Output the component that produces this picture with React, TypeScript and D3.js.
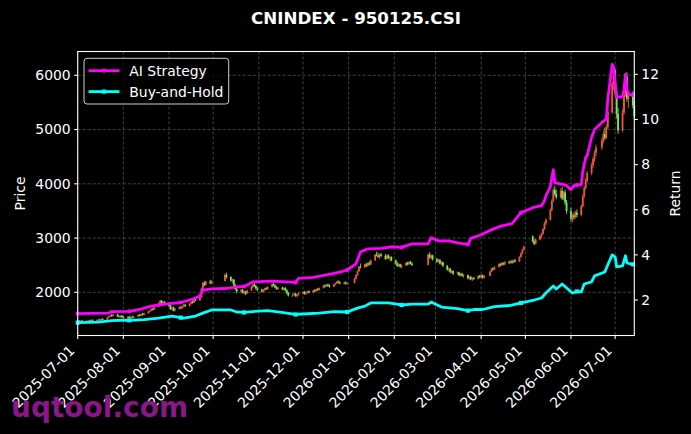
import * as d3 from 'd3';

const WIDTH = 691;
const HEIGHT = 434;
const MARGIN = { top: 51.5, right: 56.7, bottom: 98.5, left: 77.7 };

// trading calendar
const FIRST_DAY = '2025-07-01';
const LAST_DAY = '2026-07-14';
const HOLIDAYS = [
  '2025-10-01', '2025-10-02', '2025-10-03', '2025-10-06', '2025-10-07', '2025-10-08',
  '2026-01-01', '2026-01-02',
  '2026-02-16', '2026-02-17', '2026-02-18', '2026-02-19', '2026-02-20', '2026-02-23',
  '2026-04-06', '2026-05-01', '2026-05-04', '2026-05-05', '2026-06-19',
];

// daily candles per month: [open, high, low, close]
type Candle = [number, number, number, number];

const jul2025: Candle[] = [
  [1465, 1482, 1442, 1470], [1470, 1488, 1452, 1461], [1461, 1484, 1449, 1476], [1476, 1490, 1458, 1468],
  [1468, 1479, 1446, 1455], [1455, 1483, 1447, 1478], [1478, 1494, 1462, 1472], [1472, 1497, 1466, 1489],
  [1489, 1503, 1470, 1481], [1481, 1498, 1463, 1486], [1486, 1510, 1474, 1497], [1497, 1512, 1478, 1490],
  [1490, 1516, 1483, 1508], [1508, 1529, 1494, 1502], [1502, 1541, 1497, 1533], [1533, 1565, 1521, 1556],
  [1556, 1590, 1540, 1571], [1571, 1598, 1553, 1562], [1562, 1601, 1555, 1589], [1589, 1606, 1548, 1557],
  [1557, 1584, 1536, 1548], [1548, 1579, 1530, 1566], [1566, 1583, 1529, 1541],
];
const aug2025: Candle[] = [
  [1541, 1568, 1522, 1536], [1536, 1562, 1515, 1549], [1549, 1571, 1520, 1528], [1528, 1556, 1511, 1545],
  [1545, 1573, 1526, 1532], [1532, 1566, 1518, 1558], [1558, 1590, 1547, 1581], [1581, 1603, 1554, 1569],
  [1569, 1606, 1561, 1597], [1597, 1618, 1570, 1584], [1584, 1627, 1578, 1615], [1615, 1660, 1606, 1648],
  [1648, 1679, 1630, 1662], [1662, 1706, 1651, 1694], [1694, 1716, 1663, 1681], [1681, 1742, 1676, 1733],
  [1733, 1812, 1726, 1801], [1801, 1858, 1782, 1846], [1846, 1861, 1772, 1790], [1790, 1833, 1765, 1818],
  [1818, 1842, 1758, 1773],
];
const sep2025: Candle[] = [
  [1773, 1801, 1735, 1752], [1752, 1768, 1676, 1694], [1694, 1737, 1662, 1718], [1718, 1742, 1648, 1667],
  [1667, 1714, 1645, 1702], [1702, 1738, 1683, 1726], [1726, 1745, 1690, 1708], [1708, 1757, 1696, 1743],
  [1743, 1786, 1724, 1769], [1769, 1784, 1728, 1747], [1747, 1805, 1739, 1792], [1792, 1838, 1775, 1824],
  [1824, 1849, 1793, 1811], [1811, 1876, 1802, 1863], [1863, 1893, 1836, 1852], [1852, 1921, 1845, 1908],
  [1908, 2086, 1901, 2064], [2064, 2197, 2050, 2172], [2172, 2208, 2116, 2138], [2138, 2214, 2122, 2196],
  [2196, 2231, 2148, 2167], [2167, 2226, 2152, 2209],
];
const oct2025: Candle[] = [
  [2209, 2348, 2201, 2319], [2319, 2362, 2254, 2281], [2281, 2298, 2196, 2213], [2213, 2250, 2165, 2236],
  [2236, 2244, 2118, 2134], [2134, 2152, 2041, 2058], [2058, 2087, 1984, 2016], [2016, 2059, 1981, 2043],
  [2043, 2066, 1978, 1994], [1994, 2031, 1960, 2012], [2012, 2025, 1952, 1978], [1978, 2047, 1969, 2035],
  [2035, 2119, 2026, 2104], [2104, 2163, 2081, 2142], [2142, 2170, 2097, 2118], [2118, 2139, 2052, 2071],
  [2071, 2096, 2018, 2046],
];
const nov2025: Candle[] = [
  [2046, 2068, 1997, 2013], [2013, 2061, 1994, 2049], [2049, 2086, 2021, 2074], [2074, 2097, 2039, 2058],
  [2058, 2112, 2047, 2097], [2097, 2164, 2088, 2151], [2151, 2173, 2111, 2126], [2126, 2148, 2079, 2092],
  [2092, 2118, 2046, 2063], [2063, 2101, 2041, 2085], [2085, 2107, 2038, 2054], [2054, 2093, 2033, 2079],
  [2079, 2096, 2021, 2037], [2037, 2058, 1968, 1986], [1986, 2004, 1921, 1942], [1942, 1979, 1914, 1963],
  [1963, 1992, 1938, 1975], [1975, 1988, 1917, 1931], [1931, 1972, 1906, 1958], [1958, 1997, 1942, 1981],
];
const dec2025: Candle[] = [
  [1981, 2019, 1966, 2006], [2006, 2024, 1958, 1973], [1973, 2011, 1951, 1998], [1998, 2032, 1979, 2017],
  [2017, 2036, 1981, 1995], [1995, 2047, 1987, 2034], [2034, 2058, 2003, 2021], [2021, 2069, 2012, 2056],
  [2056, 2078, 2024, 2041], [2041, 2093, 2033, 2079], [2079, 2138, 2070, 2124], [2124, 2149, 2092, 2108],
  [2108, 2153, 2097, 2141], [2141, 2160, 2103, 2119], [2119, 2144, 2086, 2103], [2103, 2158, 2095, 2147],
  [2147, 2179, 2128, 2166], [2166, 2212, 2154, 2198], [2198, 2219, 2163, 2181], [2181, 2204, 2147, 2162],
  [2162, 2195, 2140, 2183], [2183, 2201, 2144, 2159], [2159, 2188, 2138, 2172],
];
const jan2026: Candle[] = [
  [2172, 2262, 2165, 2248], [2248, 2331, 2236, 2317], [2317, 2402, 2305, 2389], [2389, 2486, 2374, 2471],
  [2471, 2532, 2440, 2463], [2463, 2529, 2451, 2514], [2514, 2541, 2468, 2487], [2487, 2553, 2476, 2538],
  [2538, 2571, 2496, 2512], [2512, 2604, 2503, 2589], [2589, 2706, 2580, 2692], [2692, 2749, 2661, 2678],
  [2678, 2731, 2638, 2654], [2654, 2712, 2609, 2697], [2697, 2728, 2648, 2671], [2671, 2707, 2597, 2618],
  [2618, 2694, 2606, 2679], [2679, 2701, 2614, 2632], [2632, 2668, 2578, 2650], [2650, 2663, 2571, 2589],
];
const feb2026: Candle[] = [
  [2589, 2604, 2510, 2532], [2532, 2561, 2469, 2487], [2487, 2538, 2466, 2519], [2519, 2530, 2452, 2474],
  [2474, 2512, 2441, 2496], [2496, 2557, 2483, 2541], [2541, 2566, 2497, 2518], [2518, 2573, 2502, 2559],
  [2559, 2581, 2514, 2530], [2530, 2552, 2486, 2507], [2507, 2718, 2496, 2694], [2694, 2737, 2621, 2643],
  [2643, 2702, 2607, 2681], [2681, 2693, 2588, 2609],
];
const mar2026: Candle[] = [
  [2609, 2633, 2541, 2566], [2566, 2619, 2548, 2597], [2597, 2608, 2512, 2531], [2531, 2574, 2503, 2556],
  [2556, 2563, 2468, 2489], [2489, 2501, 2398, 2417], [2417, 2452, 2381, 2436], [2436, 2447, 2352, 2371],
  [2371, 2410, 2343, 2392], [2392, 2405, 2321, 2344], [2344, 2386, 2319, 2368], [2368, 2379, 2296, 2312],
  [2312, 2357, 2294, 2341], [2341, 2362, 2287, 2303], [2303, 2334, 2268, 2319], [2319, 2326, 2238, 2257],
  [2257, 2298, 2231, 2284], [2284, 2303, 2222, 2241], [2241, 2276, 2209, 2262], [2262, 2287, 2228, 2249],
  [2249, 2313, 2241, 2298], [2298, 2322, 2262, 2276],
];
const apr2026: Candle[] = [
  [2276, 2331, 2268, 2315], [2315, 2327, 2251, 2270], [2270, 2318, 2257, 2302], [2302, 2393, 2295, 2381],
  [2381, 2451, 2370, 2437], [2437, 2462, 2401, 2419], [2419, 2478, 2410, 2465], [2465, 2531, 2456, 2519],
  [2519, 2543, 2478, 2496], [2496, 2552, 2487, 2538], [2538, 2561, 2499, 2512], [2512, 2574, 2503, 2557],
  [2557, 2584, 2521, 2541], [2541, 2592, 2530, 2576], [2576, 2598, 2527, 2548], [2548, 2603, 2539, 2591],
  [2591, 2617, 2552, 2569], [2569, 2668, 2561, 2652], [2652, 2731, 2640, 2716], [2716, 2802, 2705, 2784],
  [2784, 2862, 2771, 2841],
];
const may2026: Candle[] = [
  [3032, 3048, 2917, 2946], [2946, 2978, 2868, 2893], [2893, 2991, 2881, 2972], [2972, 3063, 2958, 3041],
  [3041, 3097, 2995, 3078], [3078, 3184, 3061, 3166], [3166, 3298, 3149, 3271], [3271, 3362, 3242, 3338],
  [3338, 3547, 3321, 3519], [3519, 3718, 3497, 3684], [3684, 3921, 3668, 3887], [3887, 3962, 3781, 3814],
  [3814, 3896, 3716, 3752], [3752, 3918, 3731, 3869], [3869, 3947, 3698, 3731], [3731, 3868, 3702, 3841],
  [3841, 3893, 3612, 3655], [3655, 3702, 3447, 3498],
];
const jun2026: Candle[] = [
  [3498, 3561, 3302, 3354], [3354, 3442, 3291, 3418], [3418, 3473, 3336, 3389], [3389, 3502, 3358, 3471],
  [3471, 3528, 3380, 3426], [3426, 3618, 3401, 3587], [3587, 3802, 3566, 3768], [3768, 3962, 3741, 3921],
  [3921, 4108, 3893, 4062], [4062, 4241, 4020, 4197], [4197, 4389, 4158, 4342], [4342, 4501, 4290, 4458],
  [4458, 4617, 4402, 4573], [4573, 4721, 4514, 4669], [4669, 4851, 4623, 4802], [4802, 4973, 4746, 4917],
  [4917, 5038, 4802, 4851], [4851, 5092, 4823, 5043], [5043, 5367, 5012, 5318], [5318, 5896, 5287, 5842],
  [5842, 6201, 5733, 6097],
];
const jul2026: Candle[] = [
  [6097, 6112, 5621, 5683], [5683, 5742, 5204, 5287], [5287, 5398, 4921, 4986], [4986, 5371, 4948, 5312],
  [5312, 5694, 5271, 5638], [5638, 6043, 5597, 5971], [5971, 6058, 5512, 5566], [5566, 5702, 5398, 5641],
  [5641, 5706, 5392, 5452], [5452, 5519, 5187, 5243],
];

// AI Strategy cumulative return
const aiDates = [
  '2025-07-01', '2025-07-22', '2025-07-24', '2025-08-05', '2025-08-12', '2025-08-20', '2025-08-29',
  '2025-09-09', '2025-09-15', '2025-09-19', '2025-09-22', '2025-09-24', '2025-09-30', '2025-10-09',
  '2025-10-17', '2025-10-22', '2025-10-28', '2025-11-10', '2025-11-26', '2025-11-28', '2025-12-08',
  '2025-12-17', '2025-12-26', '2025-12-31', '2026-01-06', '2026-01-09', '2026-01-14', '2026-01-23',
  '2026-01-30', '2026-02-06', '2026-02-13', '2026-02-24', '2026-02-26', '2026-03-03', '2026-03-10',
  '2026-03-16', '2026-03-23', '2026-03-25', '2026-04-01', '2026-04-08', '2026-04-15', '2026-04-22',
  '2026-04-28', '2026-05-06', '2026-05-12', '2026-05-14', '2026-05-15', '2026-05-18', '2026-05-20',
  '2026-05-21', '2026-05-27', '2026-05-29', '2026-06-01', '2026-06-03', '2026-06-05', '2026-06-08',
  '2026-06-09', '2026-06-11', '2026-06-12', '2026-06-15', '2026-06-17', '2026-06-22', '2026-06-25',
  '2026-06-26', '2026-06-29', '2026-06-30', '2026-07-02', '2026-07-06', '2026-07-07', '2026-07-08',
  '2026-07-09', '2026-07-10', '2026-07-13', '2026-07-14',
];
const aiValues = [
  1.40, 1.42, 1.49, 1.50, 1.58, 1.73, 1.82,
  1.89, 2.00, 2.09, 2.18, 2.44, 2.49, 2.51,
  2.58, 2.60, 2.80, 2.84, 2.78, 2.96, 3.00,
  3.11, 3.24, 3.33, 3.60, 4.13, 4.27, 4.29,
  4.36, 4.33, 4.49, 4.49, 4.76, 4.62, 4.62,
  4.53, 4.47, 4.73, 4.89, 5.11, 5.29, 5.38,
  5.87, 6.09, 6.18, 6.40, 6.62, 7.02, 7.78,
  7.20, 7.11, 7.07, 6.89, 7.07, 7.09, 7.11,
  7.69, 8.31, 8.40, 9.20, 9.56, 9.87, 10.02,
  10.89, 12.44, 12.31, 10.98, 11.02, 11.33, 12.00,
  11.33, 11.11, 11.09, 11.07,
];

// Buy-and-Hold cumulative return
const bhDates = [
  '2025-07-01', '2025-07-15', '2025-07-24', '2025-08-01', '2025-08-05', '2025-08-15', '2025-08-25',
  '2025-09-03', '2025-09-09', '2025-09-11', '2025-09-19', '2025-09-24', '2025-09-30', '2025-10-13',
  '2025-10-17', '2025-10-22', '2025-10-28', '2025-11-07', '2025-11-14', '2025-11-26', '2025-12-01',
  '2025-12-12', '2025-12-22', '2025-12-31', '2026-01-07', '2026-01-12', '2026-01-16', '2026-01-28',
  '2026-02-06', '2026-02-13', '2026-02-24', '2026-02-26', '2026-03-05', '2026-03-16', '2026-03-23',
  '2026-03-27', '2026-04-02', '2026-04-10', '2026-04-21', '2026-04-28', '2026-05-07', '2026-05-12',
  '2026-05-15', '2026-05-20', '2026-05-22', '2026-05-26', '2026-06-02', '2026-06-05', '2026-06-08',
  '2026-06-10', '2026-06-15', '2026-06-17', '2026-06-24', '2026-06-26', '2026-06-29', '2026-07-01',
  '2026-07-02', '2026-07-06', '2026-07-08', '2026-07-09', '2026-07-13', '2026-07-14',
];
const bhValues = [
  1.00, 1.02, 1.09, 1.11, 1.10, 1.13, 1.20,
  1.29, 1.22, 1.20, 1.29, 1.42, 1.56, 1.56,
  1.47, 1.45, 1.49, 1.53, 1.47, 1.36, 1.38,
  1.42, 1.49, 1.47, 1.64, 1.73, 1.87, 1.87,
  1.78, 1.82, 1.82, 1.91, 1.69, 1.62, 1.53,
  1.58, 1.58, 1.71, 1.76, 1.87, 2.00, 2.09,
  2.31, 2.62, 2.49, 2.71, 2.31, 2.38, 2.36,
  2.71, 2.80, 3.07, 3.24, 3.56, 4.00, 3.91,
  3.47, 3.51, 3.96, 3.64, 3.58, 3.56,
];

const markerDates = [
  '2025-07-01', '2025-08-05', '2025-09-09', '2025-10-22', '2025-11-26', '2025-12-31',
  '2026-02-06', '2026-03-23', '2026-04-28', '2026-06-05', '2026-07-13',
];

const priceTicks = [2000, 3000, 4000, 5000, 6000];
const returnTicks = [2, 4, 6, 8, 10, 12];

const AI_COLOR = '#ff00ff';
const BH_COLOR = '#00ffff';
const UP_COLOR = '#ef5540';
const DOWN_COLOR = '#74ec52';
const FONT = 'DejaVu Sans';

const parseDate = d3.timeParse('%Y-%m-%d');
const formatDate = d3.timeFormat('%Y-%m-%d');

export default function App() {
  const boundsWidth = WIDTH - MARGIN.left - MARGIN.right;
  const boundsHeight = HEIGHT - MARGIN.top - MARGIN.bottom;

  const firstDay = parseDate(FIRST_DAY) as Date;
  const lastDay = parseDate(LAST_DAY) as Date;

  // weekdays that are not exchange holidays
  const tradingDays = d3
    .timeDay.range(firstDay, d3.timeDay.offset(lastDay, 1))
    .filter((d) => d.getDay() !== 0 && d.getDay() !== 6 && !HOLIDAYS.includes(formatDate(d)));

  const candles = [
    ...jul2025, ...aug2025, ...sep2025, ...oct2025, ...nov2025, ...dec2025,
    ...jan2026, ...feb2026, ...mar2026, ...apr2026, ...may2026, ...jun2026, ...jul2026,
  ].map((c, i) => ({ date: tradingDays[i], open: c[0], high: c[1], low: c[2], close: c[3] }));

  const aiSeries = aiDates.map((d, i) => ({ date: parseDate(d) as Date, value: aiValues[i] }));
  const bhSeries = bhDates.map((d, i) => ({ date: parseDate(d) as Date, value: bhValues[i] }));

  const xScale = d3.scaleTime().domain([firstDay, lastDay]).range([0, boundsWidth]);

  // matplotlib-like 5% padding on both y axes
  const pMin = d3.min(candles, (c) => c.low) as number;
  const pMax = d3.max(candles, (c) => c.high) as number;
  const pPad = (pMax - pMin) * 0.05;
  const yPrice = d3.scaleLinear().domain([pMin - pPad, pMax + pPad]).range([boundsHeight, 0]);

  const rAll = [...aiValues, ...bhValues];
  const rMin = d3.min(rAll) as number;
  const rMax = d3.max(rAll) as number;
  const rPad = (rMax - rMin) * 0.05;
  const yReturn = d3.scaleLinear().domain([rMin - rPad, rMax + rPad]).range([boundsHeight, 0]);

  const lineGen = d3
    .line<{ date: Date; value: number }>()
    .x((d) => xScale(d.date))
    .y((d) => yReturn(d.value));

  const monthTicks = d3.timeMonth.range(firstDay, d3.timeDay.offset(lastDay, 1));

  const isMarker = (d: { date: Date }) => markerDates.includes(formatDate(d.date));

  const bodyW = 1.8;
  const mk = 2.1; // marker half-size

  return (
    <svg
      width={WIDTH}
      height={HEIGHT}
      style={{ position: 'absolute', left: 0, top: 0, background: '#000' }}
      fontFamily={FONT}
    >
      <rect width={WIDTH} height={HEIGHT} fill="#000" />

      <text x={MARGIN.left + boundsWidth / 2} y={23.5} fill="#fff" fontSize={16.7} fontWeight="bold" textAnchor="middle">
        CNINDEX - 950125.CSI
      </text>

      <g transform={`translate(${MARGIN.left},${MARGIN.top})`}>
        {/* grid */}
        {monthTicks.map((t, i) => (
          <line key={`gx${i}`} x1={xScale(t)} x2={xScale(t)} y1={0} y2={boundsHeight}
            stroke="#5c5c5c" strokeWidth={0.7} strokeDasharray="3 2" />
        ))}
        {priceTicks.map((t, i) => (
          <line key={`gy${i}`} x1={0} x2={boundsWidth} y1={yPrice(t)} y2={yPrice(t)}
            stroke="#5c5c5c" strokeWidth={0.7} strokeDasharray="3 2" />
        ))}

        {/* candles */}
        {candles.map((c, i) => {
          const x = xScale(c.date);
          const color = c.close >= c.open ? UP_COLOR : DOWN_COLOR;
          const top = yPrice(Math.max(c.open, c.close));
          const bottom = yPrice(Math.min(c.open, c.close));
          return (
            <g key={`c${i}`}>
              <line x1={x} x2={x} y1={yPrice(c.high)} y2={yPrice(c.low)} stroke={color} strokeWidth={0.9} />
              <rect x={x - bodyW / 2} y={top} width={bodyW} height={Math.max(bottom - top, 0.8)} fill={color} />
            </g>
          );
        })}

        {/* return lines */}
        <path d={lineGen(bhSeries) as string} fill="none" stroke={BH_COLOR} strokeWidth={2.8} strokeLinejoin="round" />
        <path d={lineGen(aiSeries) as string} fill="none" stroke={AI_COLOR} strokeWidth={2.8} strokeLinejoin="round" />
        {bhSeries.filter(isMarker).map((d, i) => (
          <rect key={`bm${i}`} x={xScale(d.date) - mk} y={yReturn(d.value) - mk} width={mk * 2} height={mk * 2} fill={BH_COLOR} />
        ))}
        {aiSeries.filter(isMarker).map((d, i) => (
          <circle key={`am${i}`} cx={xScale(d.date)} cy={yReturn(d.value)} r={mk} fill={AI_COLOR} />
        ))}

        {/* spines */}
        <rect x={0} y={0} width={boundsWidth} height={boundsHeight} fill="none" stroke="#fff" strokeWidth={1.1} />

        {/* left axis */}
        {priceTicks.map((t, i) => (
          <g key={`yl${i}`} transform={`translate(0,${yPrice(t)})`}>
            <line x1={-3.5} x2={0} stroke="#fff" strokeWidth={1.1} />
            <text x={-7} dy="0.35em" fill="#fff" fontSize={13.9} textAnchor="end">{t}</text>
          </g>
        ))}

        {/* right axis */}
        {returnTicks.map((t, i) => (
          <g key={`yr${i}`} transform={`translate(${boundsWidth},${yReturn(t)})`}>
            <line x1={0} x2={3.5} stroke="#fff" strokeWidth={1.1} />
            <text x={7} dy="0.35em" fill="#fff" fontSize={13.9} textAnchor="start">{t}</text>
          </g>
        ))}

        {/* bottom axis */}
        {monthTicks.map((t, i) => (
          <g key={`xt${i}`} transform={`translate(${xScale(t)},${boundsHeight})`}>
            <line y1={0} y2={3.5} stroke="#fff" strokeWidth={1.1} />
            <text transform="translate(-2.3,16.1) rotate(-45)" fill="#fff" fontSize={13.9} textAnchor="end">
              {formatDate(t)}
            </text>
          </g>
        ))}
      </g>

      {/* axis titles */}
      <text transform={`translate(24.5,${MARGIN.top + boundsHeight / 2}) rotate(-90)`} fill="#fff" fontSize={13.9} textAnchor="middle">
        Price
      </text>
      <text transform={`translate(680,${MARGIN.top + boundsHeight / 2}) rotate(-90)`} fill="#fff" fontSize={13.9} textAnchor="middle">
        Return
      </text>

      {/* legend */}
      <g>
        <rect x={84} y={58.3} width={144.7} height={45.7} rx={3} fill="#000" fillOpacity={0.8} stroke="#cccccc" strokeWidth={1} />
        <line x1={88.5} x2={119.5} y1={70.7} y2={70.7} stroke={AI_COLOR} strokeWidth={2.8} />
        <circle cx={104} cy={70.7} r={mk} fill={AI_COLOR} />
        <text x={129.3} y={75.6} fill="#fff" fontSize={13.9}>AI Strategy</text>
        <line x1={88.5} x2={119.5} y1={91.6} y2={91.6} stroke={BH_COLOR} strokeWidth={2.8} />
        <rect x={104 - mk} y={91.6 - mk} width={mk * 2} height={mk * 2} fill={BH_COLOR} />
        <text x={129.3} y={96.5} fill="#fff" fontSize={13.9}>Buy-and-Hold</text>
      </g>

      {/* watermark */}
      <text x={11} y={417} fill="#8a168a" fontSize={28} fontWeight="bold">uqtool.com</text>
    </svg>
  );
}
